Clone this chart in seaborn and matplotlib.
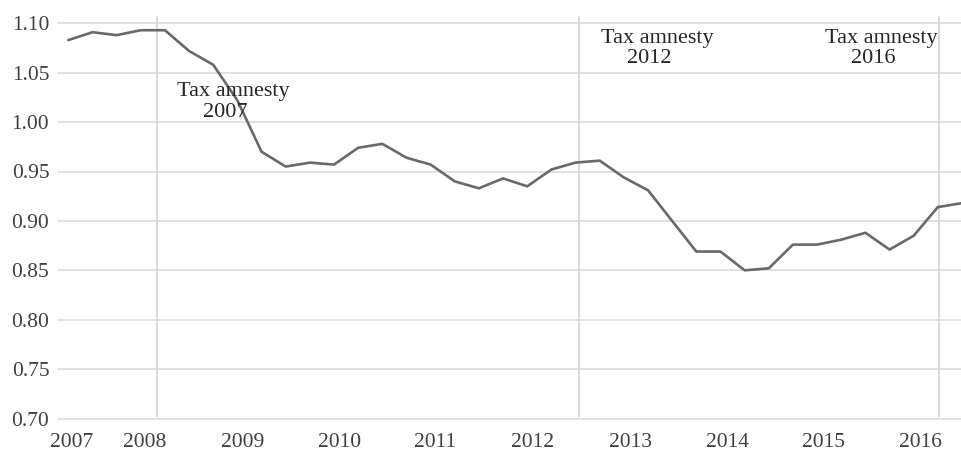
import numpy as np
import pandas as pd
import matplotlib
matplotlib.use("Agg")
import matplotlib.pyplot as plt
import seaborn as sns

# ---- data (quarterly series) ----
values = [1.083, 1.091, 1.088, 1.093, 1.093, 1.072, 1.058, 1.022, 0.970, 0.955,
          0.959, 0.957, 0.974, 0.978, 0.964, 0.957, 0.940, 0.933, 0.943, 0.935,
          0.952, 0.959, 0.961, 0.944, 0.931, 0.900, 0.869, 0.869, 0.850, 0.852,
          0.876, 0.876, 0.881, 0.888, 0.871, 0.885, 0.914, 0.918]
year_labels = ["2007", "2008", "2009", "2010", "2011", "2012", "2013", "2014", "2015", "2016"]
y_ticks = [0.70, 0.75, 0.80, 0.85, 0.90, 0.95, 1.00, 1.05, 1.10]
amnesty_titles = ["Tax amnesty", "Tax amnesty", "Tax amnesty"]
amnesty_years = ["2007", "2012", "2016"]

df = pd.DataFrame({"t": np.arange(len(values)), "value": values})

# ---- layout constants ----
W, H = 962, 451
year_tick_pos = [0.15, 3.18, 7.21, 11.21, 15.18, 19.2, 23.26, 27.3, 31.27, 35.29]
amnesty_line_pos = [3.66, 21.16, 36.05]
title_xy = [(6.82, 1.026), (24.38, 1.0804), (33.66, 1.0804)]
year_xy = [(6.49, 1.0047), (24.05, 1.060), (33.32, 1.060)]

sns.set_theme(style="white")
plt.rcParams["font.family"] = ["Liberation Serif", "DejaVu Serif"]

fig = plt.figure(figsize=(W / 100, H / 100), dpi=100)
ax = fig.add_axes([58.3 / W, 32.5 / H, (W - 58.3) / W, (418.5 - 23.3) / H])

grid_color = "#d9d9d9"
for yv in y_ticks:
    ax.axhline(yv, color=grid_color, linewidth=1.1, zorder=0, clip_on=False)

ax.vlines(amnesty_line_pos, 0.7018, 1.1074, colors="#d0d0d0", linewidth=1.1,
          zorder=1, clip_on=False)

sns.lineplot(data=df, x="t", y="value", ax=ax, color="#69696c", linewidth=1.9,
             zorder=3)

ax.set_xlim(-0.414, 37.0)
ax.set_ylim(0.70, 1.10)
ax.set_xticks(year_tick_pos)
ax.set_xticklabels(year_labels)
ax.set_yticks(y_ticks)
ax.set_yticklabels([f"{v:.2f}" for v in y_ticks])
ax.tick_params(axis="both", length=0, labelsize=15.5, labelcolor="#404040")
ax.tick_params(axis="y", pad=6.5)
ax.tick_params(axis="x", pad=10.5)
ax.set_xlabel("")
ax.set_ylabel("")
for s in ax.spines.values():
    s.set_visible(False)
ax.grid(False)

for (tx, ty), (yx, yy), t, y in zip(title_xy, year_xy, amnesty_titles, amnesty_years):
    ax.text(tx, ty, t, ha="center", va="baseline", fontsize=16, color="#262626", zorder=4)
    ax.text(yx, yy, y, ha="center", va="baseline", fontsize=16, color="#262626", zorder=4)

fig.savefig("out.png", dpi=100)
